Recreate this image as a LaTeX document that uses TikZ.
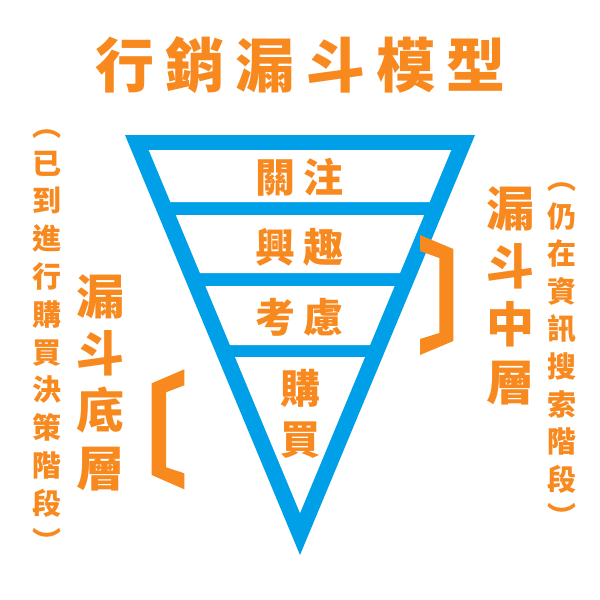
\documentclass[tikz,border=0pt]{standalone}
\usepackage{fontspec}
\newfontfamily\cjk{Noto Sans CJK TC}
\definecolor{fo}{RGB}{247,137,31}
\definecolor{fb}{RGB}{0,160,233}
\begin{document}
\begin{tikzpicture}[x=1pt,y=-1pt,
  cj/.style={font=\cjk\bfseries\fontsize{#1}{#1}\selectfont, text=fo, inner sep=0pt,
             text height={0.88*#1pt}, text depth={0.12*#1pt}, anchor=center},
  brk/.style={fill=fo}]
\useasboundingbox (0,0) rectangle (600,600);
\fill[white] (0,0) rectangle (600,600);
% funnel
\fill[fb] (125,135) -- (475,135) -- (300,555) -- cycle;
\fill[white] (148.75,150) -- (451.25,150) -- (429.6,202) -- (170.4,202) -- cycle;
\fill[white] (175.8,215) -- (424.2,215) -- (400,273) -- (200,273) -- cycle;
\fill[white] (205.4,286) -- (394.6,286) -- (370,345) -- (230,345) -- cycle;
\fill[white] (235,357) -- (365,357) -- (300,513) -- cycle;
% title
\foreach \c [count=\i from 0] in {行,銷,漏,斗,模,型}
  \node[cj=59] (t\i) at (125+70.2*\i,65) {\c};
% band labels
\node[cj=40] (b1a) at (275,177) {關};
\node[cj=40] (b1b) at (323,177) {注};
\node[cj=40] (b2a) at (275,247) {興};
\node[cj=40] (b2b) at (323,247) {趣};
\node[cj=40] (b3a) at (275,317) {考};
\node[cj=40] (b3b) at (323,317) {慮};
\node[cj=40] (b4a) at (300,388) {購};
\node[cj=40] (b4b) at (300,439) {買};
% left brackets
\fill[brk] (184.3,369.3) -- (151.7,383.3) -- (151.7,475) -- (184.3,489.3) -- (184.3,473.3)
  -- (166,467.3) -- (166,392.3) -- (184.3,385.3) -- cycle;
\fill[brk] (420,235) -- (453.3,249) -- (453.3,341) -- (420,355) -- (420,339)
  -- (439.3,333) -- (439.3,258) -- (420,251) -- cycle;
% left labels
\foreach \c [count=\i from 0] in {︵,已,到,進,行,購,買,決,策,階,段,︶}
  \node[cj=29] (l\i) at (47,125.2+37.8*\i) {\c};
\foreach \c [count=\i from 0] in {漏,斗,底,層}
  \node[cj=48] (lb\i) at (100,296+57.3*\i) {\c};
% right labels
\foreach \c [count=\i from 0] in {漏,斗,中,層}
  \node[cj=48] (rb\i) at (510,208+58*\i) {\c};
\foreach \c [count=\i from 0] in {︵,仍,在,資,訊,搜,索,階,段,︶}
  \node[cj=29] (r\i) at (562,178.4+37.6*\i) {\c};
\end{tikzpicture}
\end{document}
